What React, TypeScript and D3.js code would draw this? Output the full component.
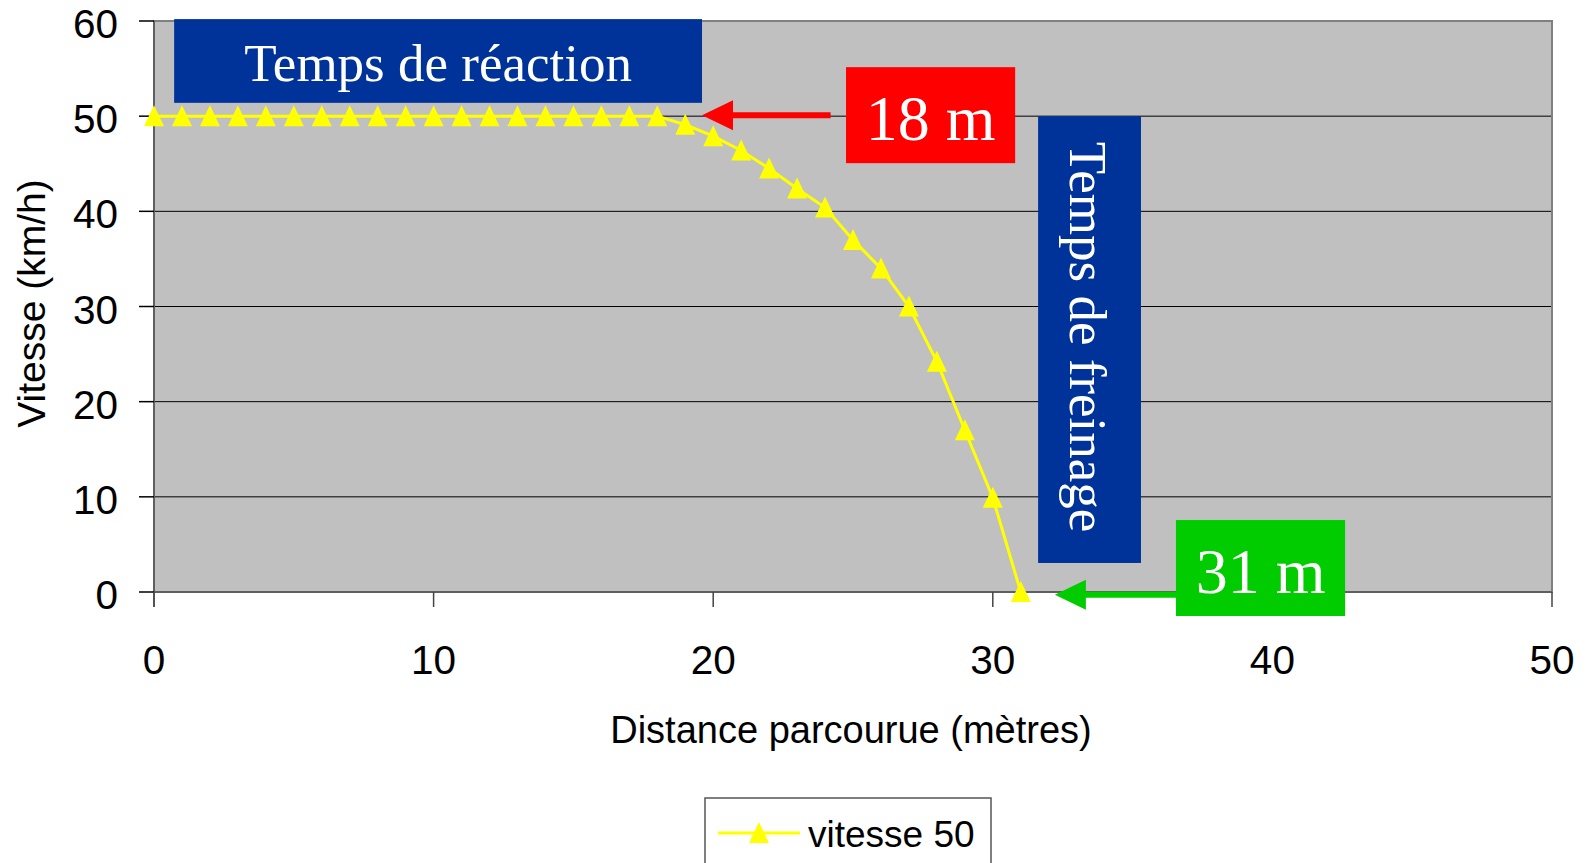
import React from 'react';
import * as d3 from 'd3';

// distance (m) vs speed (km/h)
const distances = [0, 1, 2, 3, 4, 5, 6, 7, 8, 9, 10, 11, 12, 13, 14, 15, 16, 17, 18, 19, 20, 21, 22, 23, 24, 25, 26, 27, 28, 29, 30, 31];
const speeds = [50, 50, 50, 50, 50, 50, 50, 50, 50, 50, 50, 50, 50, 50, 50, 50, 50, 50, 50, 49.1, 47.9, 46.4, 44.5, 42.4, 40.4, 37, 34, 30, 24.2, 17, 9.9, 0];
const xTicks = [0, 10, 20, 30, 40, 50];
const yTicks = [0, 10, 20, 30, 40, 50, 60];
const seriesName = 'vitesse 50';

const W = 1588;
const H = 863;
const margin = { top: 21, right: 36, bottom: 271, left: 154 };

const x = d3.scaleLinear().domain([0, 50]).range([margin.left, W - margin.right]);
const y = d3.scaleLinear().domain([0, 60]).range([H - margin.bottom, margin.top]);

const tri = (cx: number, cy: number, s = 10) =>
  `M${cx},${cy - s - 1}L${cx + s},${cy + s}L${cx - s},${cy + s}Z`;

const arrow = (x0: number, x1: number, yy: number, head = 31, hw = 15, sw = 3) =>
  `M${x1},${yy}L${x1 + head},${yy - hw}L${x1 + head},${yy - sw}L${x0},${yy - sw}L${x0},${yy + sw}L${x1 + head},${yy + sw}L${x1 + head},${yy + hw}Z`;

const App = () => {
  const pts = distances.map((d, i) => [d, speeds[i]] as [number, number]);
  const line = d3.line<[number, number]>().x(d => x(d[0])).y(d => y(d[1]));
  const x0 = x(0), x50 = x(50), y0 = y(0), y60 = y(60);
  const arial = 'Arial, "Liberation Sans", sans-serif';
  const times = '"Times New Roman", "Liberation Serif", serif';

  return (
    <svg width={W} height={H} style={{ position: 'absolute', left: 0, top: 0, display: 'block', background: '#fff' }}>
      <rect x={x0} y={y60} width={x50 - x0} height={y0 - y60} fill="#c0c0c0" />
      {yTicks.filter(t => t > 0 && t < 60).map(t => (
        <line key={t} x1={x0} x2={x50} y1={y(t)} y2={y(t)} stroke="#000" strokeWidth={1} />
      ))}
      <rect x={x0} y={y60} width={x50 - x0} height={y0 - y60} fill="none" stroke="#808080" strokeWidth={2} />
      <line x1={x0} x2={x0} y1={y60} y2={y0 + 15} stroke="#555" strokeWidth={1.5} />
      <line x1={x0} x2={x50} y1={y0} y2={y0} stroke="#555" strokeWidth={1.5} />
      {yTicks.map(t => (
        <g key={t}>
          <line x1={x0 - 15} x2={x0} y1={y(t)} y2={y(t)} stroke="#000" strokeWidth={1.5} />
          <text x={x0 - 36} y={y(t) + 3} textAnchor="end" dominantBaseline="central" fontFamily={arial} fontSize={40.5} fill="#000">{t}</text>
        </g>
      ))}
      {xTicks.map(t => (
        <g key={t}>
          <line x1={x(t)} x2={x(t)} y1={y0} y2={y0 + 15} stroke="#444" strokeWidth={1.5} />
          <text x={x(t)} y={y0 + 68} textAnchor="middle" dominantBaseline="central" fontFamily={arial} fontSize={40.5} fill="#000">{t}</text>
        </g>
      ))}
      <text x={x(25) - 2} y={730} textAnchor="middle" dominantBaseline="central" fontFamily={arial} fontSize={38} fill="#000">Distance parcourue (mètres)</text>
      <text transform={`translate(31,${y(30) - 3}) rotate(-90)`} textAnchor="middle" dominantBaseline="central" fontFamily={arial} fontSize={39} fill="#000">Vitesse (km/h)</text>

      {/* annotations */}
      <rect x={x(0.72)} y={y(60.2)} width={x(19.6) - x(0.72)} height={y(51.4) - y(60.2)} fill="#003399" />
      <text x={(x(0.72) + x(19.6)) / 2} y={(y(60.2) + y(51.4)) / 2 + 2} textAnchor="middle" dominantBaseline="central" fontFamily={times} fontSize={53} fill="#fff">Temps de réaction</text>

      <path d={line(pts) || ''} fill="none" stroke="#ffff00" strokeWidth={3} />
      {pts.map((p, i) => (
        <path key={i} d={tri(x(p[0]), y(p[1]))} fill="#ffff00" />
      ))}

      <path d={arrow(x(24.2), x(19.6), y(50.1))} fill="#ff0000" />
      <rect x={x(24.75)} y={y(55.15)} width={x(30.8) - x(24.75)} height={y(45.06) - y(55.15)} fill="#ff0000" />
      <text x={(x(24.75) + x(30.8)) / 2} y={(y(55.15) + y(45.06)) / 2 + 3} textAnchor="middle" dominantBaseline="central" fontFamily={times} fontSize={64} fill="#fff">18 m</text>

      <rect x={x(31.62)} y={y(50)} width={x(35.3) - x(31.62)} height={y(3.05) - y(50)} fill="#003399" />
      <text transform={`translate(${(x(31.62) + x(35.3)) / 2 - 2},${y(26.8)}) rotate(90)`} textAnchor="middle" dominantBaseline="central" fontFamily={times} fontSize={53} fill="#fff">Temps de freinage</text>

      <path d={arrow(x(36.6), x(32.22), y(-0.3))} fill="#00cc00" />
      <rect x={x(36.55)} y={y(7.56)} width={x(42.6) - x(36.55)} height={y(-2.52) - y(7.56)} fill="#00cc00" />
      <text x={(x(36.55) + x(42.6)) / 2} y={(y(7.56) + y(-2.52)) / 2 + 3} textAnchor="middle" dominantBaseline="central" fontFamily={times} fontSize={64} fill="#fff">31 m</text>

      {/* legend */}
      <rect x={705} y={798} width={286} height={80} fill="#fff" stroke="#555" strokeWidth={1.5} />
      <line x1={718} x2={800} y1={833} y2={833} stroke="#ffff00" strokeWidth={3} />
      <path d={tri(759, 833)} fill="#ffff00" />
      <text x={808} y={834} dominantBaseline="central" fontFamily={arial} fontSize={37} fill="#000">{seriesName}</text>
    </svg>
  );
};

export default App;
